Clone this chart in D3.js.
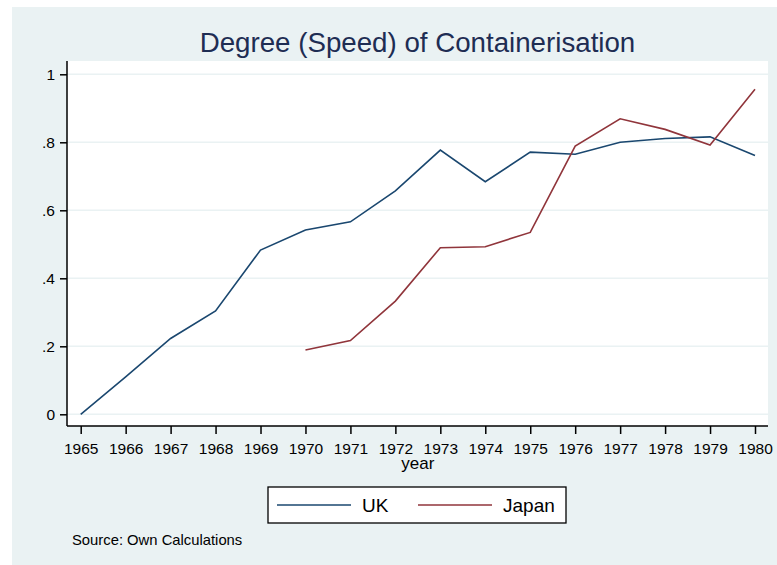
<!DOCTYPE html>
<html lang="en">
<head>
    <meta charset="UTF-8">
    <title>Degree (Speed) of Containerisation</title>
    <script src="https://d3js.org/d3.v7.min.js"></script>
    <style>
        body { margin: 0; background: #fff; }
        svg { display: block; font-family: "Liberation Sans", Arial, sans-serif; }
    </style>
</head>
<body>
    <svg id="chart" width="777" height="565"></svg>

    <script>
        // Data
        const years = d3.range(1965, 1981);
        const ukValues = [0, 0.11, 0.223, 0.304, 0.483, 0.542, 0.566, 0.657, 0.777, 0.684, 0.771, 0.765, 0.80, 0.811, 0.816, 0.761];
        const japanYears = d3.range(1970, 1981);
        const japanValues = [0.189, 0.217, 0.333, 0.49, 0.493, 0.535, 0.789, 0.869, 0.838, 0.792, 0.956];
        const yTicks = [0, 0.2, 0.4, 0.6, 0.8, 1];
        const yTickLabels = ["0", ".2", ".4", ".6", ".8", "1"];

        const svg = d3.select("#chart");

        // Graph region (light blue-grey background)
        svg.append("rect")
            .attr("x", 12).attr("y", 7)
            .attr("width", 765).attr("height", 558)
            .attr("fill", "#eaf2f3");

        // Plot region
        const plot = { left: 67, top: 61, right: 768, bottom: 426 };
        svg.append("rect")
            .attr("x", plot.left).attr("y", plot.top)
            .attr("width", plot.right - plot.left).attr("height", plot.bottom - plot.top)
            .attr("fill", "#fff");

        const x = d3.scaleLinear().domain([1965, 1980]).range([80.7, 755]);
        const y = d3.scaleLinear().domain([0, 1]).range([414.3, 74.3]);

        // Gridlines
        svg.append("g")
            .selectAll("line")
            .data(yTicks)
            .enter().append("line")
            .attr("x1", plot.left).attr("x2", plot.right)
            .attr("y1", d => y(d)).attr("y2", d => y(d))
            .attr("stroke", "#eaf2f3")
            .attr("stroke-width", 1.5);

        // Y axis
        const yAxis = svg.append("g")
            .attr("transform", "translate(" + plot.left + ",0)")
            .call(d3.axisLeft(y).tickValues(yTicks).tickSize(7).tickPadding(5)
                .tickFormat((d, i) => yTickLabels[i]));
        yAxis.select(".domain").attr("d", "M0," + plot.top + "V" + plot.bottom);

        // X axis
        const xAxis = svg.append("g")
            .attr("transform", "translate(0," + plot.bottom + ")")
            .call(d3.axisBottom(x).tickValues(years).tickSize(8).tickPadding(9)
                .tickFormat(d3.format("d")));
        xAxis.select(".domain").attr("d", "M" + plot.left + ",0H" + plot.right);

        svg.selectAll(".tick text")
            .attr("font-size", 15.5)
            .attr("font-family", "Liberation Sans, Arial, sans-serif")
            .attr("fill", "#000");
        svg.selectAll(".domain, .tick line")
            .attr("stroke", "#000")
            .attr("stroke-width", 1.5);

        // Axis title
        svg.append("text")
            .attr("x", (x(1965) + x(1980)) / 2)
            .attr("y", 469)
            .attr("text-anchor", "middle")
            .attr("font-size", 17)
            .text("year");

        // Lines
        const line = d3.line()
            .x(d => x(d[0]))
            .y(d => y(d[1]));

        svg.append("path")
            .datum(d3.zip(years, ukValues))
            .attr("fill", "none")
            .attr("stroke", "#1a476f")
            .attr("stroke-width", 1.6)
            .attr("d", line);

        svg.append("path")
            .datum(d3.zip(japanYears, japanValues))
            .attr("fill", "none")
            .attr("stroke", "#90353b")
            .attr("stroke-width", 1.6)
            .attr("d", line);

        // Title
        svg.append("text")
            .attr("x", 417.5)
            .attr("y", 52)
            .attr("text-anchor", "middle")
            .attr("font-size", 27.7)
            .attr("fill", "#1e2d53")
            .text("Degree (Speed) of Containerisation");

        // Legend
        const legend = svg.append("g");
        legend.append("rect")
            .attr("x", 268).attr("y", 487)
            .attr("width", 298).attr("height", 36)
            .attr("fill", "#fff")
            .attr("stroke", "#000")
            .attr("stroke-width", 1.3);

        const legendItems = [
            { name: "UK", color: "#1a476f", x0: 277, x1: 351, tx: 362 },
            { name: "Japan", color: "#90353b", x0: 418, x1: 492, tx: 503 }
        ];
        legend.selectAll("line")
            .data(legendItems)
            .enter().append("line")
            .attr("x1", d => d.x0).attr("x2", d => d.x1)
            .attr("y1", 505).attr("y2", 505)
            .attr("stroke", d => d.color)
            .attr("stroke-width", 1.6);
        legend.selectAll("text")
            .data(legendItems)
            .enter().append("text")
            .attr("x", d => d.tx)
            .attr("y", 512)
            .attr("font-size", 19)
            .text(d => d.name);

        // Note
        svg.append("text")
            .attr("x", 72)
            .attr("y", 545)
            .attr("font-size", 14.8)
            .text("Source: Own Calculations");
    </script>
</body>
</html>
